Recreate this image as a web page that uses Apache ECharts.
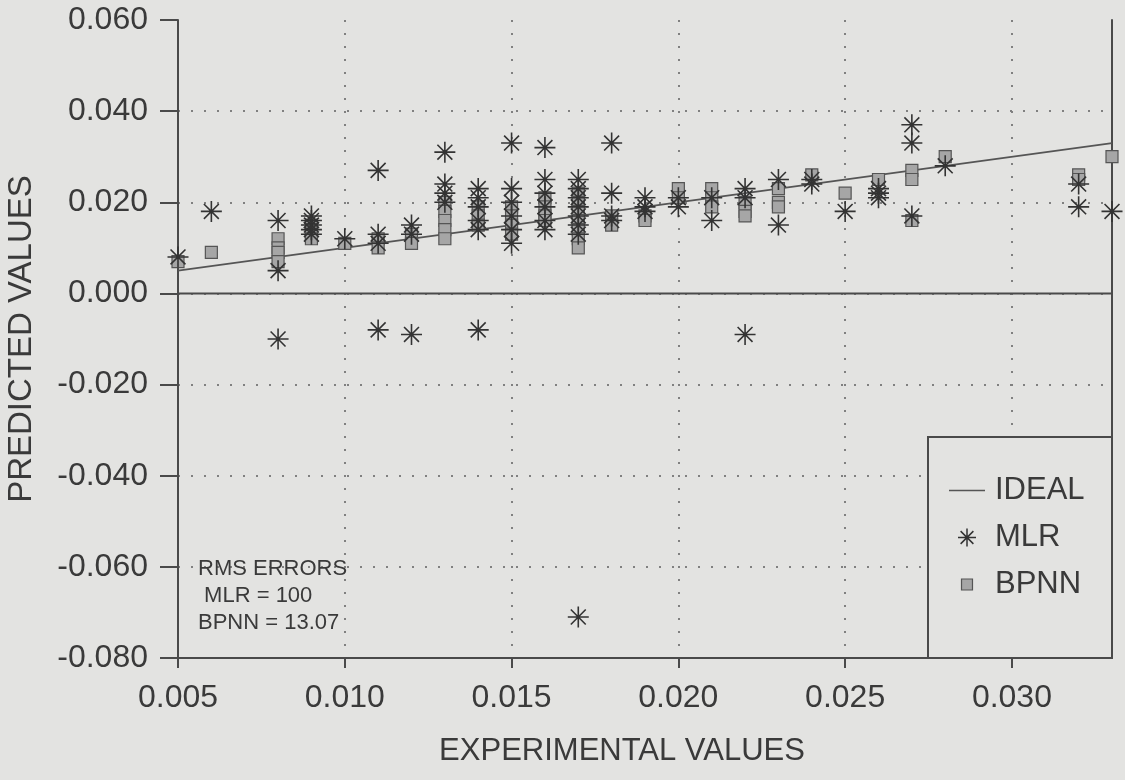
<!DOCTYPE html>
<html><head><meta charset="utf-8">
<script src="https://cdn.jsdelivr.net/npm/echarts@6/dist/echarts.min.js"></script>
<style>html,body{margin:0;padding:0;background:#e3e3e1}#c{width:1125px;height:780px}</style>
</head><body><div id="c"></div>
<script>
// ---- data ----
const mlrX = [0.005,0.006,0.008,0.008,0.008,0.009,0.009,0.009,0.009,0.009,0.010,
  0.011,0.011,0.011,0.011,0.012,0.012,0.012,0.013,0.013,0.013,0.013,
  0.014,0.014,0.014,0.014,0.014,0.014,0.015,0.015,0.015,0.015,0.015,0.015,
  0.016,0.016,0.016,0.016,0.016,0.016,0.017,0.017,0.017,0.017,0.017,0.017,0.017,0.017,
  0.018,0.018,0.018,0.018,0.019,0.019,0.019,0.020,0.020,0.021,0.021,
  0.022,0.022,0.022,0.023,0.023,0.024,0.024,0.025,0.026,0.026,0.026,
  0.027,0.027,0.027,0.028,0.032,0.032,0.033];
const mlrY = [0.008,0.018,0.016,0.005,-0.010,0.017,0.016,0.015,0.014,0.013,0.012,
  0.027,0.013,0.011,-0.008,0.015,0.013,-0.009,0.031,0.024,0.022,0.020,
  0.023,0.021,0.019,0.016,0.014,-0.008,0.033,0.023,0.020,0.017,0.014,0.011,
  0.032,0.025,0.022,0.019,0.016,0.014,0.025,0.023,0.021,0.019,0.017,0.015,0.013,-0.071,
  0.033,0.022,0.017,0.016,0.021,0.019,0.018,0.021,0.019,0.021,0.016,
  0.023,0.021,-0.009,0.025,0.015,0.025,0.024,0.018,0.023,0.022,0.021,
  0.037,0.033,0.017,0.028,0.024,0.019,0.018];
const bpnnX = [0.005,0.006,0.008,0.008,0.008,0.008,0.009,0.009,0.009,0.009,0.010,
  0.011,0.011,0.012,0.012,0.013,0.013,0.013,0.013,0.013,0.014,0.014,0.014,
  0.015,0.015,0.015,0.015,0.016,0.016,0.016,0.016,
  0.017,0.017,0.017,0.017,0.017,0.017,0.017,0.018,0.018,0.019,0.019,0.020,0.020,
  0.021,0.021,0.021,0.022,0.022,0.022,0.023,0.023,0.023,0.024,0.025,0.026,
  0.027,0.027,0.027,0.028,0.032,0.032,0.033];
const bpnnY = [0.007,0.009,0.012,0.010,0.009,0.007,0.015,0.014,0.013,0.012,0.011,
  0.012,0.010,0.013,0.011,0.020,0.018,0.016,0.014,0.012,0.019,0.017,0.015,
  0.019,0.017,0.015,0.013,0.021,0.019,0.017,0.016,
  0.022,0.020,0.018,0.016,0.014,0.012,0.010,0.017,0.015,0.017,0.016,0.023,0.021,
  0.023,0.021,0.019,0.020,0.018,0.017,0.023,0.020,0.019,0.026,0.022,0.025,
  0.027,0.025,0.016,0.030,0.026,0.025,0.030];
const idealX = [0.005, 0.033];
const idealY = [0.005, 0.033];
const zeroX = [0.005, 0.033];
const zeroY = [0, 0];
const rmsLines = ['RMS ERRORS', ' MLR = 100', 'BPNN = 13.07'];

const xMin = 0.005, xMax = 0.033, xStep = 0.005;
const yMin = -0.08, yMax = 0.06, yStep = 0.02;

const zip = (a, b) => a.map((v, i) => [v, b[i]]);
const BG = '#e3e3e1', INK = '#3a3a3a', AX = '#4a4a4a';
const FONT = '"Liberation Sans", Arial, sans-serif';
const star = 'path://M0,-10L0,10M-10,0L10,0M-7.1,-7.1L7.1,7.1M-7.1,7.1L7.1,-7.1';
const legendLine = 'path://M0,0L36,0L36,1.6L0,1.6Z';
const legendSquare = 'path://M-3.2,-3.2M0,0L10,0L10,10L0,10ZM13.2,13.2';
const dots = { type: [2, 11], color: '#808080', width: 2 };

const chart = echarts.init(document.getElementById('c'), null, { renderer: 'canvas' });
chart.setOption({
  backgroundColor: BG,
  animation: false,
  textStyle: { fontFamily: FONT, color: INK },
  grid: { left: 178, right: 13, top: 20, bottom: 122, containLabel: false, outerBoundsMode: 'none' },
  xAxis: {
    type: 'value', min: xMin, max: xMax, interval: xStep,
    name: 'EXPERIMENTAL VALUES', nameLocation: 'middle', nameGap: 78,
    nameTextStyle: { fontSize: 31, color: INK, fontFamily: FONT, padding: [0, 46, 0, 0] },
    axisLine: { onZero: false, lineStyle: { color: AX, width: 2 } },
    axisTick: { length: 10, lineStyle: { color: AX, width: 2 } },
    axisLabel: { fontSize: 32, color: INK, margin: 24, showMaxLabel: false,
      formatter: v => v.toFixed(3) },
    splitLine: { show: true, showMinLine: false, showMaxLine: false, lineStyle: dots }
  },
  yAxis: [{
    type: 'value', min: yMin, max: yMax, interval: yStep,
    name: 'PREDICTED VALUES', nameLocation: 'middle', nameGap: 140, nameRotate: 90,
    nameTextStyle: { fontSize: 33, color: INK, fontFamily: FONT },
    axisLine: { show: true, lineStyle: { color: AX, width: 2 } },
    axisTick: { show: true, length: 18, lineStyle: { color: AX, width: 2 } },
    axisLabel: { fontSize: 32, color: INK, margin: 30, formatter: v => v.toFixed(3) },
    splitLine: { show: true, showMinLine: false, showMaxLine: false, lineStyle: dots }
  }, {
    type: 'value', position: 'right', min: yMin, max: yMax, interval: yStep,
    axisLine: { show: true, lineStyle: { color: AX, width: 2 } },
    axisTick: { show: false }, axisLabel: { show: false }, splitLine: { show: false }
  }],
  legend: {
    orient: 'vertical', left: 944, top: 470, itemGap: 16,
    itemWidth: 36, itemHeight: 18, z: 6,
    textStyle: { fontSize: 31, color: INK, fontFamily: FONT, padding: [0, 0, 0, 5] },
    data: [
      { name: 'IDEAL', icon: legendLine, itemStyle: { color: '#555', borderWidth: 0 } },
      { name: 'MLR', icon: star, itemStyle: { color: 'transparent', borderColor: '#333', borderWidth: 1.5 } },
      { name: 'BPNN', icon: legendSquare, itemStyle: { color: '#a6a6a6', borderColor: '#555', borderWidth: 1.2 } }
    ]
  },
  graphic: [
    { type: 'rect', z: 4, shape: { x: 928, y: 437, width: 184, height: 221 },
      style: { fill: BG, stroke: AX, lineWidth: 2 } },
    { type: 'text', z: 5, left: 198, top: 555,
      style: { text: rmsLines.join('\n'), font: '22px ' + FONT, fill: INK, lineHeight: 27 } }
  ],
  series: [
    { name: 'zero', type: 'line', data: zip(zeroX, zeroY), symbol: 'none', silent: true,
      lineStyle: { color: AX, width: 2 }, z: 1 },
    { name: 'IDEAL', type: 'line', data: zip(idealX, idealY), symbol: 'none',
      lineStyle: { color: '#555', width: 1.8 }, itemStyle: { color: '#555' }, z: 2 },
    { name: 'BPNN', type: 'scatter', data: zip(bpnnX, bpnnY), symbol: 'rect', symbolSize: 12,
      itemStyle: { color: '#a6a6a6', borderColor: '#555', borderWidth: 1.2, opacity: 1 }, z: 3 },
    { name: 'MLR', type: 'scatter', data: zip(mlrX, mlrY), symbol: star, symbolSize: 21,
      itemStyle: { color: 'transparent', borderColor: '#333', borderWidth: 1.6, opacity: 1 }, z: 3 }
  ]
});
</script></body></html>
